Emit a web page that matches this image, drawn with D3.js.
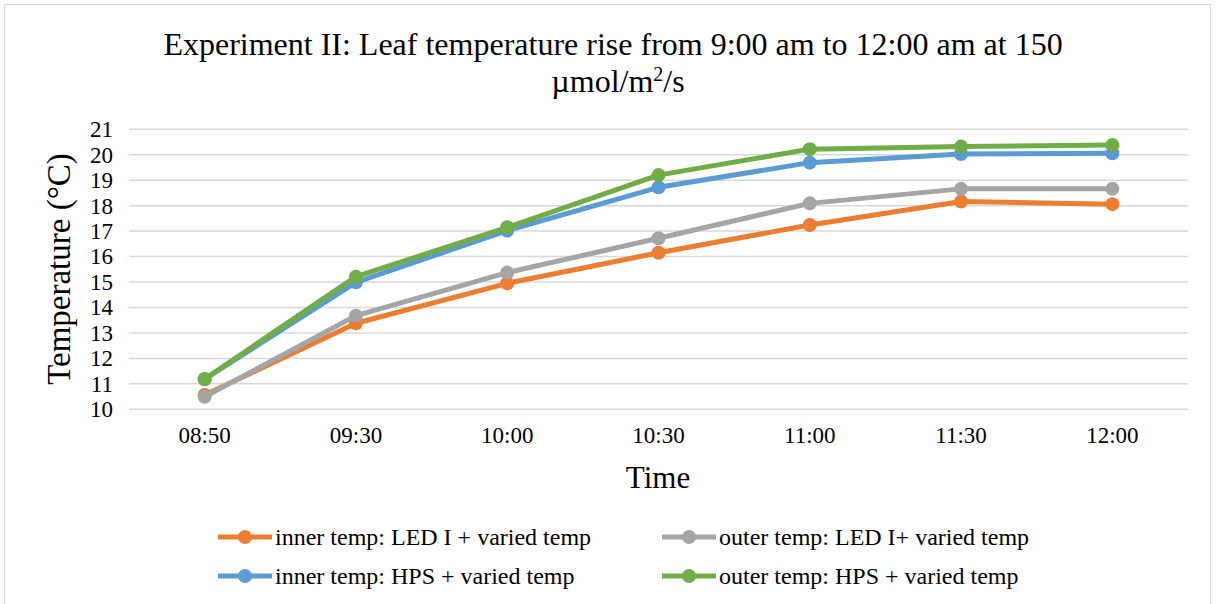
<!DOCTYPE html>
<html><head><meta charset="utf-8">
<script src="https://cdn.jsdelivr.net/npm/d3@7"></script>
<style>body{margin:0;background:#fff}svg{display:block}text{font-family:"Liberation Serif","Times New Roman",serif;fill:#000}</style>
</head><body><svg id="c" width="1216" height="604"></svg>
<script>
const categories = ["08:50","09:30","10:00","10:30","11:00","11:30","12:00"];
const yTicks = [10,11,12,13,14,15,16,17,18,19,20,21];
const innerLED = [10.56,13.38,14.95,16.15,17.24,18.16,18.06];
const outerLED = [10.49,13.68,15.37,16.72,18.09,18.66,18.66];
const innerHPS = [11.18,14.99,17.02,18.72,19.69,20.03,20.06];
const outerHPS = [11.19,15.21,17.15,19.20,20.22,20.32,20.38];
const seriesNames = ["inner temp: LED I + varied temp","outer temp: LED I+ varied temp","inner  temp: HPS + varied temp","outer temp: HPS + varied temp"];
const colors = ["#ED7D31","#A5A5A5","#5B9BD5","#70AD47"];
const seriesData = [innerLED, outerLED, innerHPS, outerHPS];

const svg = d3.select("#c");
svg.append("rect").attr("x",4.5).attr("y",4.5).attr("width",1206).attr("height",610)
  .attr("fill","#fff").attr("stroke","#d9d9d9").attr("stroke-width",1);

const x = d3.scaleBand().domain(categories).range([129,1188]);
const y = d3.scaleLinear().domain([10,21]).range([409.3,129.3]);

svg.append("g").selectAll("line").data(yTicks).join("line")
  .attr("x1",129).attr("x2",1188).attr("y1",d=>y(d)).attr("y2",d=>y(d))
  .attr("stroke","#d9d9d9").attr("stroke-width",1.5);

const ya = svg.append("g").attr("transform","translate(129,0)")
  .call(d3.axisLeft(y).tickValues(yTicks).tickSize(0).tickPadding(16));
ya.select(".domain").remove();
ya.selectAll("text").style("font-family","Liberation Serif").style("font-size","23px").attr("fill","#000");

const xa = svg.append("g").attr("transform","translate(0,409.3)")
  .call(d3.axisBottom(x).tickSize(0).tickPadding(17));
xa.select(".domain").remove();
xa.selectAll("text").style("font-family","Liberation Serif").style("font-size","23px").attr("fill","#000");

svg.append("text").attr("x",613).attr("y",55).attr("text-anchor","middle").style("font-size","32px")
  .text("Experiment II: Leaf temperature rise from 9:00 am to 12:00 am at 150");
const t2 = svg.append("text").attr("x",618).attr("y",92).attr("text-anchor","middle").style("font-size","32px");
t2.append("tspan").text("µmol/m");
t2.append("tspan").attr("dy",-11).style("font-size","20px").text("2");
t2.append("tspan").attr("dy",11).text("/s");

svg.append("text").attr("x",658).attr("y",488).attr("text-anchor","middle").style("font-size","31px").text("Time");
svg.append("text").attr("transform","translate(70,269) rotate(-90)").attr("text-anchor","middle").style("font-size","33px").text("Temperature (°C)");

const line = d3.line().x((d,i)=>x(categories[i])+x.bandwidth()/2).y(d=>y(d));
seriesData.forEach((s,k)=>{
  const g = svg.append("g");
  g.append("path").datum(s).attr("d",line).attr("fill","none").attr("stroke",colors[k])
    .attr("stroke-width",5).attr("stroke-linejoin","round");
  g.selectAll("circle").data(s).join("circle")
    .attr("cx",(d,i)=>x(categories[i])+x.bandwidth()/2).attr("cy",d=>y(d)).attr("r",7).attr("fill",colors[k]);
});

seriesNames.forEach((n,k)=>{
  const lx = [218,662,218,662][k], ly = [537,537,576,576][k];
  const g = svg.append("g");
  g.append("line").attr("x1",lx).attr("x2",lx+54).attr("y1",ly).attr("y2",ly).attr("stroke",colors[k]).attr("stroke-width",5);
  g.append("circle").attr("cx",lx+27).attr("cy",ly).attr("r",7).attr("fill",colors[k]);
  g.append("text").attr("x",lx+57).attr("y",ly+8).style("font-size","24px").text(n);
});
</script></body></html>
